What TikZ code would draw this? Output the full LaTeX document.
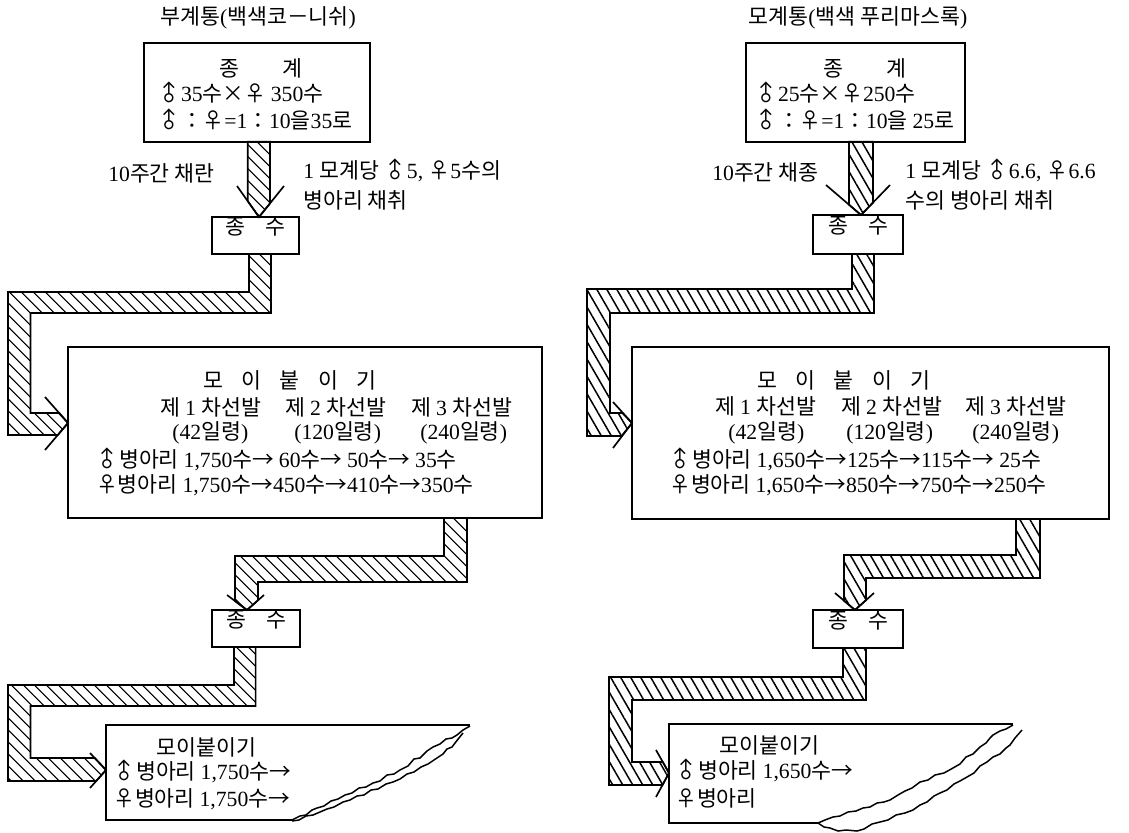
\documentclass[tikz,border=0pt]{standalone}
\usepackage{fontspec}
\setmainfont{Noto Sans CJK KR}
\newfontfamily\latinfont{Liberation Serif}
\newfontfamily\krfont{Noto Sans CJK KR}
\XeTeXinterchartokenstate=1
\newXeTeXintercharclass\krclass
\newcount\krc
\krc="AC00
\loop\ifnum\krc<"D7A4 \XeTeXcharclass\krc=\krclass \advance\krc by 1 \repeat
\XeTeXcharclass"2640=\krclass
\XeTeXcharclass"2642=\krclass
\XeTeXcharclass"2192=\krclass
\XeTeXcharclass"00D7=\krclass
\XeTeXcharclass"FF1A=\krclass
\XeTeXcharclass"FF0D=\krclass
\XeTeXinterchartoks 0 \krclass={\krfont}
\XeTeXinterchartoks 4095 \krclass={\krfont}
\XeTeXinterchartoks \krclass 0={\latinfont}
\XeTeXinterchartoks 4095 0={\latinfont}
\newcommand\mars{\makebox[1.05em]{\smash{\rotatebox[origin=c]{45}{♂}}}}
\usetikzlibrary{patterns.meta,fit}

\begin{document}
\begin{tikzpicture}[x=0.6pt,y=-0.6pt,
  box/.style={draw,line width=1.1pt,inner sep=0pt,font=\fontsize{13}{15}\selectfont},
  txt/.style={inner sep=0pt,anchor=west,font=\fontsize{13}{15}\selectfont},
  bandL/.style={draw,line width=1pt,pattern={Lines[angle=-45,distance=5.4pt,line width=0.8pt]}},
  bandR/.style={draw,line width=1pt,pattern={Lines[angle=-60,distance=5.2pt,line width=0.9pt]}},
  wing/.style={line width=1pt},
  torn/.style={line width=0.9pt,line join=round}]
\path[use as bounding box,fill=white] (0,0) rectangle (1129,833);

% left: 부계통
\node[txt,anchor=center] (titL) at (258,18) {부계통(백색코－니쉬)};
\node[box,fit={(143.6,43) (369.7,141.7)}] (stockL) {};
\node[txt] (stockL1) at (219,68) {종\hspace{26pt}계};
\node[txt] (stockL2) at (158,93) {\mars{}35수×♀ 350수};
\node[txt] (stockL3) at (158,120) {\mars{}：♀=1：10을35로};
\node[txt] (labL1) at (108,173) {10주간 채란};
\node[txt] (labL2) at (303,171) {1 모계당 \mars{}5, ♀5수의};
\node[txt] (labL3) at (303,200) {병아리 채취};
\node[box,fit={(212,217) (299,254)}] (seedL1) {종\hspace{12pt}수};
\node[box,fit={(68.2,347) (542,518)}] (mainL) {};
\node[txt] (mainL0) at (203,380) {모\hspace{11pt}이\hspace{11pt}붙\hspace{11pt}이\hspace{11pt}기};
\foreach \x/\t [count=\i] in {160/{제 1 차선발},285/{제 2 차선발},411/{제 3 차선발}}
  \node[txt] (selL\i) at (\x,407) {\t};
\foreach \x/\t [count=\i] in {172/42,294/120,420/240}
  \node[txt] (ageL\i) at (\x,433) {(\t{}일령)};
\node[txt] (maleL) at (96,460) {\mars{}병아리 1,750수→ 60수→ 50수→ 35수};
\node[txt] (femL) at (96,485) {♀병아리 1,750수→450수→410수→350수};
\node[box,fit={(212,610) (300,647)}] (seedL2) {종\hspace{12pt}수};
\node[txt] (tailL0) at (156,747) {모이붙이기};
\node[txt] (tailL1) at (113,772) {\mars{}병아리 1,750수→};
\node[txt] (tailL2) at (113,799) {♀병아리 1,750수→};
\draw[line width=1.1pt] (470,725) -- (106,725) -- (106,820) -- (292,820);
\draw[torn] plot coordinates {(292,820) (300,816) (306,815) (312,810) (317,808) (324,806) (331,801) (338,799) (345,795) (352,793) (359,788) (366,787) (373,783) (380,781) (387,775) (394,774) (400,770) (408,766) (414,759) (420,758) (427,751) (433,747) (440,744) (446,739) (452,738) (457,735) (463,730) (470,726)};
\draw[torn] plot coordinates {(292,821) (299,820) (306,816) (313,815) (320,812) (327,809) (334,807) (343,802) (350,800) (357,796) (364,795) (371,790) (378,789) (386,784) (393,782) (400,779) (407,774) (414,772) (421,767) (428,764) (437,758) (443,754) (447,749) (452,747) (455,743) (459,738) (463,733)};

\filldraw[bandL] (247.7,141.7) -- (247.7,201) -- (259,217) -- (270,203.4) -- (270,141.7) -- cycle;
\draw[wing] (237,186) -- (259,217) -- (284,186);
\filldraw[bandL] (249,254) -- (271,254) -- (271,313) -- (30.5,313) -- (30.5,413) -- (59.2,413) -- (68,423) -- (57.8,435) -- (8,435) -- (8,292) -- (249,292) -- cycle;
\draw[wing] (45,397) -- (68,423) -- (45,450);
\filldraw[bandL] (444,518) -- (467,518) -- (467,582) -- (258,582) -- (258,600.3) -- (247,610) -- (235,601) -- (235,556) -- (444,556) -- cycle;
\draw[wing] (227,595) -- (247,610) -- (264,595);
\filldraw[bandL] (234,647) -- (255.6,647) -- (255.6,706) -- (30.5,706) -- (30.5,758) -- (94.7,758) -- (106,770) -- (96.2,781) -- (8,781) -- (8,685) -- (234,685) -- cycle;
\draw[wing] (90,753) -- (106,770) -- (90,788);

% right: 모계통
\node[txt,anchor=center] (titR) at (858,18) {모계통(백색 푸리마스록)};
\node[box,fit={(746,43) (965,141.7)}] (stockR) {};
\node[txt] (stockR1) at (823,68) {종\hspace{26pt}계};
\node[txt] (stockR2) at (755,93) {\mars{}25수×♀250수};
\node[txt] (stockR3) at (755,120) {\mars{}：♀=1：10을 25로};
\node[txt] (labR1) at (712,172) {10주간 채종};
\node[txt] (labR2) at (905,171) {1 모계당 \mars{}6.6, ♀6.6};
\node[txt] (labR3) at (905,200) {수의 병아리 채취};
\node[box,fit={(813,215) (903,254)}] (seedR1) {종\hspace{12pt}수};
\node[box,fit={(632,347) (1109,519)}] (mainR) {};
\node[txt] (mainR0) at (757,380) {모\hspace{11pt}이\hspace{11pt}붙\hspace{11pt}이\hspace{11pt}기};
\foreach \x/\t [count=\i] in {715/{제 1 차선발},841/{제 2 차선발},965/{제 3 차선발}}
  \node[txt] (selR\i) at (\x,406) {\t};
\foreach \x/\t [count=\i] in {728/42,846/120,972/240}
  \node[txt] (ageR\i) at (\x,433) {(\t{}일령)};
\node[txt] (maleR) at (669,460) {\mars{}병아리 1,650수→125수→115수→ 25수};
\node[txt] (femR) at (669,485) {♀병아리 1,650수→850수→750수→250수};
\node[box,fit={(813,610) (903,648)}] (seedR2) {종\hspace{12pt}수};
\node[txt] (tailR0) at (719,745) {모이붙이기};
\node[txt] (tailR1) at (675,771) {\mars{}병아리 1,650수→};
\node[txt] (tailR2) at (675,798) {♀병아리};
\draw[line width=1.1pt] (1013,724) -- (669,724) -- (669,823) -- (818,823);
\draw[torn] plot coordinates {(818,823) (825,820) (833,817) (840,816) (848,812) (856,811) (863,808) (870,807) (877,803) (884,802) (890,800) (898,795) (905,791) (912,788) (920,782) (928,780) (935,775) (944,773) (953,768) (960,764) (966,757) (973,754) (980,747) (986,743) (990,738) (993,735) (1000,731) (1006,729) (1013,725)};
\draw[torn] plot coordinates {(818,823) (824,827) (830,828) (838,831) (846,830) (857,831) (864,829) (872,824) (880,822) (888,820) (896,815) (905,813) (913,810) (920,805) (927,802) (934,796) (940,793) (947,790) (954,784) (960,781) (967,777) (974,773) (980,766) (987,762) (993,757) (1000,754) (1006,748) (1010,745) (1015,738) (1022,730)};

\filldraw[bandR] (849,141.7) -- (849,204.7) -- (861,215) -- (873,202.6) -- (873,141.7) -- cycle;
\draw[wing] (826,185) -- (861,215) -- (890,185);
\filldraw[bandR] (852,254) -- (874,254) -- (874,313) -- (610,313) -- (610,413) -- (622.4,413) -- (632,423) -- (621.6,436) -- (587,436) -- (587,289) -- (852,289) -- cycle;
\draw[wing] (613,402) -- (632,423) -- (613,448);
\filldraw[bandR] (1016,519) -- (1040,519) -- (1040,578) -- (866,578) -- (866,600.2) -- (855,610) -- (844,600.7) -- (844,555) -- (1016,555) -- cycle;
\draw[wing] (835,593) -- (855,610) -- (874,593);
\filldraw[bandR] (843,648) -- (866,648) -- (866,700) -- (632,700) -- (632,762) -- (662.8,762) -- (669,773) -- (662.5,785) -- (609,785) -- (609,677) -- (843,677) -- cycle;
\draw[wing] (656,750) -- (669,773) -- (656,797);
\end{tikzpicture}
\end{document}
